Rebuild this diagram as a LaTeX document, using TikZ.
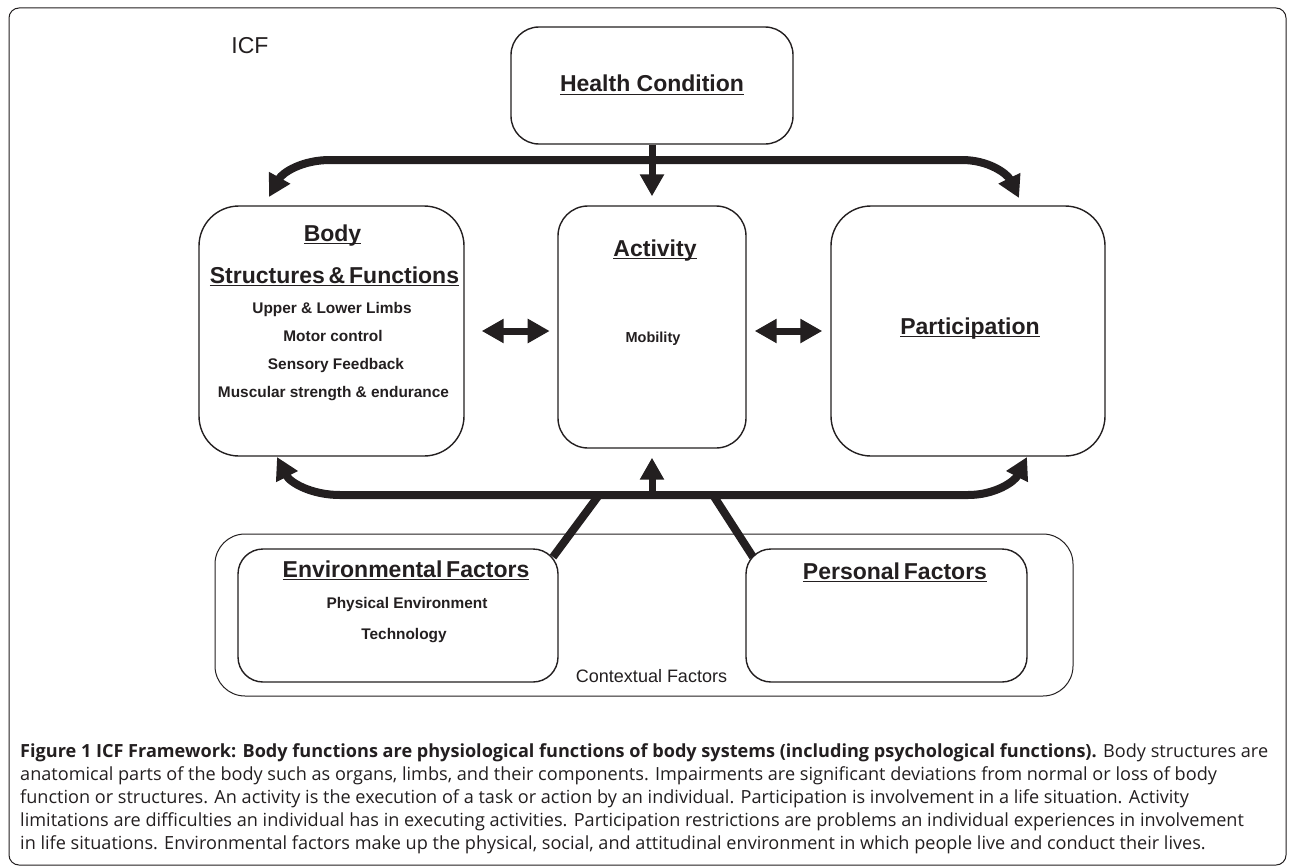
\documentclass[tikz,border=0pt]{standalone}
\usepackage{fontspec}
\setmainfont{Liberation Sans}
\newfontfamily\capfont{Open Sans}
\usetikzlibrary{arrows.meta,calc}
\definecolor{ink}{RGB}{35,31,32}
\newcommand\myul[1]{{\setbox0\hbox{#1}\rlap{\rule[-3.2pt]{\wd0}{1.5pt}}\box0}}
\begin{document}
\begin{tikzpicture}[x=1pt,y=-1pt,
  mybox/.style={draw=ink,line width=1.4pt,inner sep=0pt},
  mythinbox/.style={draw=ink,line width=1pt,inner sep=0pt},
  mylbl/.style={inner sep=0pt,anchor=base,text=ink},
  myhead/.style={font=\fontsize{23}{27}\selectfont\bfseries},
  mysub/.style={font=\fontsize{15.4}{18}\selectfont\bfseries},
  mycapline/.style={inner sep=0pt,anchor=base west,text=ink,font=\capfont\fontsize{18.1}{21}\selectfont},
  mybar/.style={draw=ink,line width=8pt},
  mystem/.style={draw=ink,line width=7pt},
  myarr/.style={-{Triangle[length=22pt,width=23pt]}},
  mydarr/.style={{Triangle[length=22pt,width=23pt]}-{Triangle[length=22pt,width=23pt]}}
]
\useasboundingbox (0,0) rectangle (1290,867);
\fill[white] (0,0) rectangle (1290,867);
% frame
\node[mythinbox,rounded corners=10pt,minimum width=1277pt,minimum height=857pt] (frame) at (647.5,436.5) {};
% boxes
\node[mybox,rounded corners=28pt,minimum width=282pt,minimum height=117pt] (health) at (652,85.5) {};
\node[mybox,rounded corners=40pt,minimum width=265pt,minimum height=250pt] (body) at (331.5,331) {};
\node[mybox,rounded corners=30pt,minimum width=188pt,minimum height=242pt] (act) at (652,327) {};
\node[mybox,rounded corners=40pt,minimum width=274pt,minimum height=250pt] (part) at (968,331) {};
\node[mythinbox,rounded corners=30pt,minimum width=858pt,minimum height=162pt] (ctx) at (644,615) {};
\node[mybox,rounded corners=25pt,minimum width=320pt,minimum height=133pt] (env) at (398,615.5) {};
\node[mybox,rounded corners=25pt,minimum width=281pt,minimum height=133pt] (pers) at (886.5,615.5) {};
% texts
\node[mylbl,font=\fontsize{23}{27}\selectfont] (icf) at (250,54) {ICF};
\node[mylbl,myhead] (thealth) at (652,92) {\myul{Health Condition}};
\node[mylbl,myhead] (tbody) at (332.5,241) {\myul{Body}};
\node[mylbl,myhead] (tstruct) at (334.5,283) {\myul{Structures\,\&\,Functions}};
\node[mylbl,mysub] (t1) at (332,313) {Upper \& Lower Limbs};
\node[mylbl,mysub] (t2) at (333,341) {Motor control};
\node[mylbl,mysub] (t3) at (336,369) {Sensory Feedback};
\node[mylbl,mysub] (t4) at (333.5,397) {Muscular strength \& endurance};
\node[mylbl,myhead] (tact) at (655,256) {\myul{Activity}};
\node[mylbl,font=\fontsize{14.5}{18}\selectfont\bfseries] (tmob) at (653,342) {Mobility};
\node[mylbl,myhead] (tpart) at (970,334) {\myul{Participation}};
\node[mylbl,myhead] (tenv) at (406,577) {\myul{Environmental\,Factors}};
\node[mylbl,mysub] (tphys) at (407,608) {Physical Environment};
\node[mylbl,mysub] (ttech) at (404,639) {Technology};
\node[mylbl,myhead] (tpers) at (895,579) {\myul{Personal\,Factors}};
\node[mylbl,font=\fontsize{18}{22}\selectfont] (tctx) at (651.5,682) {Contextual Factors};
% coordinates for connectors
\coordinate (tl) at (269,197);
\coordinate (tlb) at (330,160);
\coordinate (trb) at (962,160);
\coordinate (tr) at (1019,198);
\coordinate (bl) at (277,457);
\coordinate (blb) at (340,495);
\coordinate (brb) at (968,495);
\coordinate (br) at (1027,457);
\coordinate (bc) at (652,495);
\coordinate (ej) at (599,495);
\coordinate (ee) at (553,557);
\coordinate (pj) at (713,495);
\coordinate (pe) at (753,557);
% connectors
\draw[mybar,mydarr] (tl) to[out=61,in=180] (tlb) -- (trb) to[out=0,in=116] (tr);
\draw[mystem,myarr] (health.south) -- ([yshift=9pt]act.north);
\draw[mybar,mydarr] (bl) to[out=-63,in=180] (blb) -- (brb) to[out=0,in=-117] (br);
\draw[mystem,myarr] (bc) -- ([yshift=-9pt]act.south);
\draw[mybar] (ej) -- (ee);
\draw[mybar] (pj) -- (pe);
\draw[mystem,mydarr] ([xshift=17pt]body.east) -- ([xshift=85pt]body.east);
\draw[mystem,mydarr] ([xshift=8pt]act.east |- part.west) -- ([xshift=-8pt]part.west);
% caption
\node[mycapline] (c1) at (20,757) {\textbf{Figure 1 ICF Framework: Body functions are physiological functions of body systems (including psychological functions).} Body structures are};
\node[mycapline] (c2) at (20,780) {anatomical parts of the body such as organs, limbs, and their components. Impairments are significant deviations from normal or loss of body};
\node[mycapline] (c3) at (20,803) {function or structures. An activity is the execution of a task or action by an individual. Participation is involvement in a life situation. Activity};
\node[mycapline] (c4) at (20,826) {limitations are difficulties an individual has in executing activities. Participation restrictions are problems an individual experiences in involvement};
\node[mycapline] (c5) at (20,849) {in life situations. Environmental factors make up the physical, social, and attitudinal environment in which people live and conduct their lives.};
\end{tikzpicture}
\end{document}
